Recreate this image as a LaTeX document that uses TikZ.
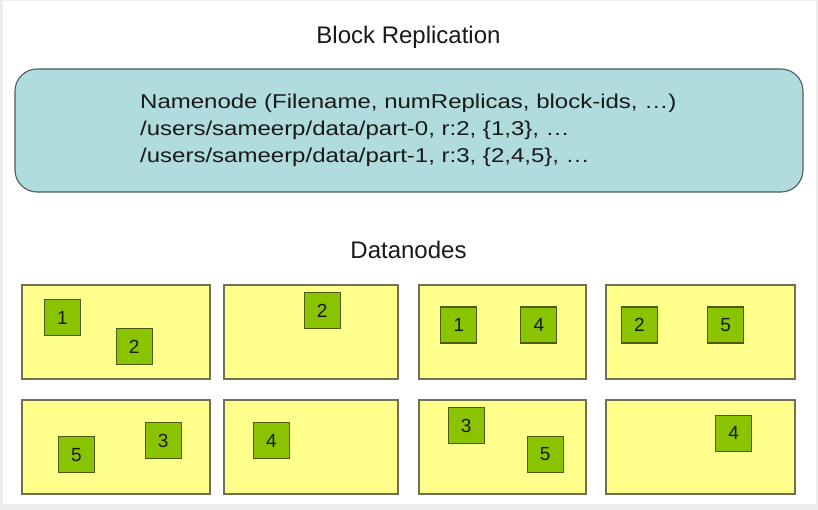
\documentclass[tikz,border=0pt]{standalone}
\usepackage{fontspec}
\setmainfont{Liberation Sans}
\newfontfamily\nnfont[FakeStretch=1.2]{Liberation Sans}
\definecolor{nnfill}{RGB}{176,220,222}
\definecolor{nndraw}{RGB}{80,92,92}
\definecolor{dnfill}{RGB}{255,255,140}
\definecolor{dndraw}{RGB}{112,112,84}
\definecolor{blkfill}{RGB}{138,196,0}
\definecolor{blkdraw}{RGB}{76,90,20}
\definecolor{txt}{RGB}{25,25,25}
\begin{document}
\begin{tikzpicture}[x=1pt,y=-1pt,
  heading/.style={font=\fontsize{24}{29}\selectfont, text=txt, anchor=base, inner sep=0pt},
  nnline/.style={font=\nnfont\fontsize{20}{27}\selectfont, text=txt, anchor=base west, inner sep=0pt},
  namebox/.style={draw=nndraw, fill=nnfill, line width=1.1pt, rounded corners=22pt},
  databox/.style={draw=dndraw, fill=dnfill, line width=1.1pt, inner sep=0pt},
  blk/.style={draw=blkdraw, fill=blkfill, line width=1.1pt, minimum width=36pt, minimum height=36pt, inner sep=0pt, text=txt, font=\fontsize{19}{22}\selectfont}
]
\useasboundingbox (0,0) rectangle (818,510);
\fill[gray!14] (0,0) rectangle (818,510);
\fill[white] (3,1) rectangle (816,504);

\node[heading] (title) at (408.5,43.3) {Block Replication};

\node[namebox, minimum width=788pt, minimum height=123pt] (nn) at (409,130.5) {};
\node[nnline] (nn1) at (140,108.5) {Namenode (Filename, numReplicas, block-ids, \ldots)};
\node[nnline] (nn2) at (140,135.5) {/users/sameerp/data/part-0, r:2, \{1,3\}, \ldots};
\node[nnline] (nn3) at (140,162.5) {/users/sameerp/data/part-1, r:3, \{2,4,5\}, \ldots};

\node[heading] (dn) at (408.5,259) {Datanodes};

% datanode boxes
\node[databox, minimum width=188pt, minimum height=94pt] (d11) at (116,332) {};
\node[databox, minimum width=174pt, minimum height=94pt] (d12) at (311,332) {};
\node[databox, minimum width=167pt, minimum height=94pt] (d13) at (502.5,332) {};
\node[databox, minimum width=189pt, minimum height=94pt] (d14) at (700.5,332) {};
\node[databox, minimum width=188pt, minimum height=94pt] (d21) at (116,447) {};
\node[databox, minimum width=174pt, minimum height=94pt] (d22) at (311,447) {};
\node[databox, minimum width=167pt, minimum height=94pt] (d23) at (502.5,447) {};
\node[databox, minimum width=189pt, minimum height=94pt] (d24) at (700.5,447) {};

% blocks
\node[blk] (b11a) at (62.5,317.7) {1};
\node[blk] (b11b) at (134.2,346.8) {2};
\node[blk] (b12a) at (322.2,310.7) {2};
\node[blk] (b13a) at (458.8,325) {1};
\node[blk] (b13b) at (538.8,325) {4};
\node[blk] (b14a) at (639.3,325) {2};
\node[blk] (b14b) at (725.7,325) {5};
\node[blk] (b21a) at (76.3,454.8) {5};
\node[blk] (b21b) at (163.2,440.5) {3};
\node[blk] (b22a) at (271.3,440.5) {4};
\node[blk] (b23a) at (466.2,425.8) {3};
\node[blk] (b23b) at (545.2,454.5) {5};
\node[blk] (b24a) at (733.7,433.3) {4};
\end{tikzpicture}
\end{document}
